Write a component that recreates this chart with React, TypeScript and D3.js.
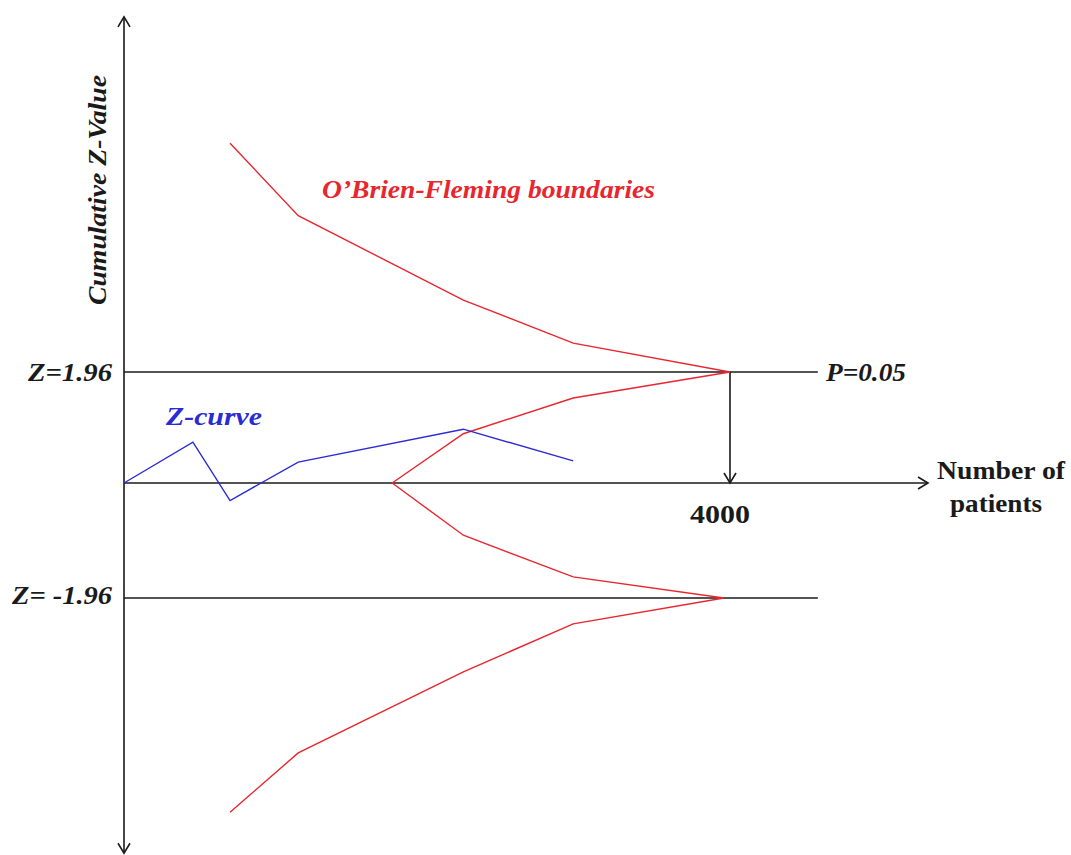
import { useEffect, useRef } from 'react';
import * as d3 from 'd3';

// interim analysis points (number of patients)
const looks = [700, 1150, 2240, 2965, 4000];
const upperOuter = [6.0, 4.72, 3.23, 2.47, 1.96];
const lowerLooks = [700, 1150, 2240, 2965, 3960];
const lowerOuter = [-5.61, -4.6, -3.22, -2.4, -1.96];

const innerLooks = [1770, 2240, 2965, 4000];
const upperInner = [0, 0.87, 1.5, 1.96];
const innerLowerLooks = [1770, 2240, 2965, 3960];
const lowerInner = [0, -0.89, -1.6, -1.96];

const zLooks = [0, 455, 700, 1150, 2240, 2965];
const zCurve = [0, 0.72, -0.3, 0.37, 0.95, 0.39];

const critical = 1.96;
const targetN = 4000;

const App = () => {
  const svgRef = useRef<SVGSVGElement>(null);

  useEffect(() => {
    const width = 1071;
    const height = 855;
    const svg = d3.select(svgRef.current).attr('width', width).attr('height', height);
    svg.selectAll('*').remove();

    const x = d3.scaleLinear().domain([0, targetN]).range([124, 730]);
    const y = d3.scaleLinear().domain([-critical, 0, critical]).range([598, 483, 372]);

    const font = '"Liberation Serif", "Times New Roman", serif';
    const red = '#e8262e';
    const blue = '#2b2bd6';
    const ink = '#1a1a1a';

    const line = d3.line<[number, number]>().x(d => x(d[0])).y(d => y(d[1]));
    const pairs = (xs: number[], ys: number[]) => xs.map((v, i) => [v, ys[i]] as [number, number]);

    const chevron = (px: number, py: number, dir: 'up' | 'down' | 'right') => {
      const s = 10;
      let d = '';
      if (dir === 'up') d = `M${px - s * 0.6},${py + s} L${px},${py} L${px + s * 0.6},${py + s}`;
      if (dir === 'down') d = `M${px - s * 0.6},${py - s} L${px},${py} L${px + s * 0.6},${py - s}`;
      if (dir === 'right') d = `M${px - s},${py - s * 0.6} L${px},${py} L${px - s},${py + s * 0.6}`;
      svg.append('path').attr('d', d).attr('fill', 'none').attr('stroke', ink).attr('stroke-width', 1.6);
    };

    // axes
    const yTop = y(8.23);
    const yBottom = y(-6.31);
    svg.append('line').attr('x1', x(0)).attr('x2', x(0)).attr('y1', yTop).attr('y2', yBottom)
      .attr('stroke', ink).attr('stroke-width', 1.6);
    chevron(x(0), yTop, 'up');
    chevron(x(0), yBottom, 'down');

    const xEnd = x(5307);
    svg.append('line').attr('x1', x(0)).attr('x2', xEnd).attr('y1', y(0)).attr('y2', y(0))
      .attr('stroke', ink).attr('stroke-width', 1.6);
    chevron(xEnd, y(0), 'right');

    // critical lines
    [critical, -critical].forEach(z => {
      svg.append('line').attr('x1', x(0)).attr('x2', x(4580)).attr('y1', y(z)).attr('y2', y(z))
        .attr('stroke', ink).attr('stroke-width', 1.6);
    });

    // arrow down to required sample size
    svg.append('line').attr('x1', x(targetN)).attr('x2', x(targetN)).attr('y1', y(critical)).attr('y2', y(0))
      .attr('stroke', ink).attr('stroke-width', 1.6);
    chevron(x(targetN), y(0), 'down');

    // boundaries
    [pairs(looks, upperOuter), pairs(lowerLooks, lowerOuter), pairs(innerLooks, upperInner), pairs(innerLowerLooks, lowerInner)]
      .forEach(p => {
        svg.append('path').attr('d', line(p)).attr('fill', 'none').attr('stroke', red).attr('stroke-width', 1.4);
      });

    // z-curve
    svg.append('path').attr('d', line(pairs(zLooks, zCurve))).attr('fill', 'none')
      .attr('stroke', blue).attr('stroke-width', 1.4);

    const text = (t: string, tx: number, ty: number, len: number,
      opts: { anchor?: string; color?: string; italic?: boolean; size?: number } = {}) =>
      svg.append('text').attr('x', tx).attr('y', ty).text(t)
        .attr('font-family', font).attr('font-weight', 'bold')
        .attr('font-style', opts.italic === false ? 'normal' : 'italic')
        .attr('font-size', opts.size ?? 25)
        .attr('text-anchor', opts.anchor ?? 'start')
        .attr('textLength', len).attr('lengthAdjust', 'spacingAndGlyphs')
        .attr('fill', opts.color ?? ink);

    text('Z=1.96', 28, 381, 84);
    text('Z= -1.96', 12, 604, 100);
    text('P=0.05', 826, 381, 80);
    text('Z-curve', 166, 425, 96, { color: blue });
    text('O\u2019Brien-Fleming boundaries', 322, 198, 333, { color: red });
    text('4000', 690, 523, 60, { italic: false, size: 26 });
    text('Number of', 937, 479, 128, { italic: false, size: 26 });
    text('patients', 950, 512, 92, { italic: false, size: 26 });

    svg.append('text').attr('transform', 'translate(106,305) rotate(-90)')
      .attr('font-family', font).attr('font-weight', 'bold')
      .attr('font-style', 'italic').attr('font-size', 25).attr('fill', ink)
      .attr('textLength', 230).attr('lengthAdjust', 'spacingAndGlyphs')
      .text('Cumulative Z-Value');
  }, []);

  return <svg ref={svgRef} style={{ position: 'absolute', left: 0, top: 0, background: '#fff' }}></svg>;
};

export default App;
